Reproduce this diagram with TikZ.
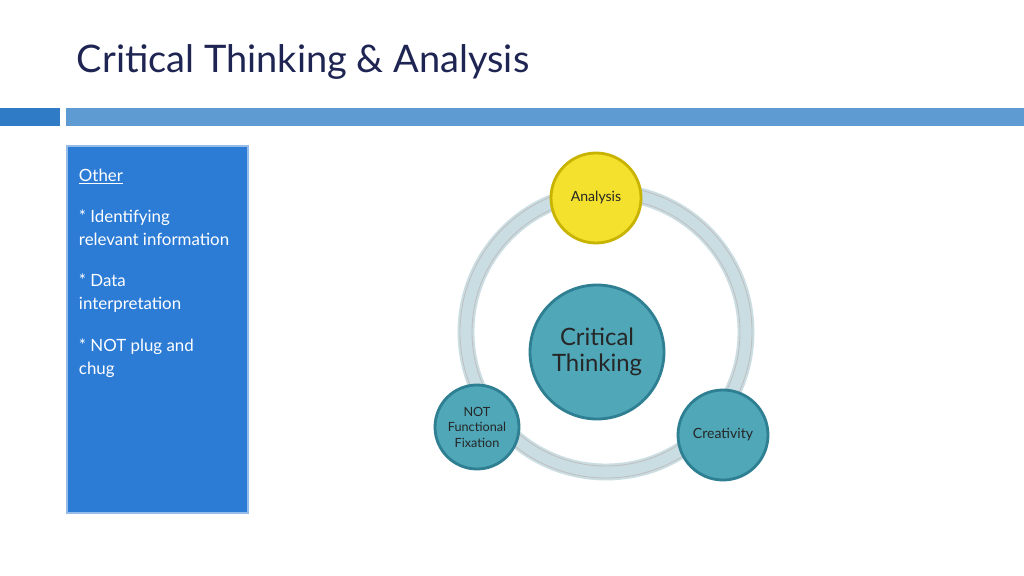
\documentclass[tikz,border=0pt]{standalone}
\usepackage{fontspec}
\setmainfont{Lato}
\usetikzlibrary{positioning}
\definecolor{titlenavy}{HTML}{1F2553}
\definecolor{bardark}{HTML}{2F7BC6}
\definecolor{barlight}{HTML}{5E9BD3}
\definecolor{boxblue}{HTML}{2C7CD6}
\definecolor{ringgray}{HTML}{C9DDE3}
\definecolor{tealfill}{HTML}{4FA7B8}
\definecolor{tealedge}{HTML}{2E7F92}
\definecolor{goldfill}{HTML}{F3E12E}
\definecolor{goldedge}{HTML}{C8B400}
\tikzset{
  bubble/.style={circle, draw=tealedge, line width=2pt, fill=tealfill, text=black!85, align=center, inner sep=0pt},
  boxtext/.style={anchor=north west, text=white, font=\fontsize{12}{16}\selectfont, align=left}
}
\begin{document}
\begin{tikzpicture}[x=0.025cm, y=-0.025cm]
  \useasboundingbox (0,0) rectangle (1024,576);
  \fill[white] (0,0) rectangle (1024,576);
  % title and bars
  \node[anchor=west, text=titlenavy, font=\fontsize{27}{30}\selectfont] (title) at (72,62) {Critical Thinking \& Analysis};
  \fill[bardark] (0,108) rectangle (60,126);
  \fill[barlight] (66,108) rectangle (1024,126);
  % side box
  \draw[draw=boxblue!50, line width=1pt, fill=boxblue] (67,146) rectangle (248,513);
  \node[boxtext] (other) at (74,164) {\underline{Other}};
  \node[boxtext] (ident) at (74,205) {* Identifying\\relevant information};
  \node[boxtext] (data) at (74,269) {* Data\\interpretation};
  \node[boxtext] (plug) at (74,334) {* NOT plug and\\chug};
  % cycle
  \draw[ringgray, line width=12pt] (606,332) circle (140);
  \draw[gray!50, line width=0.6pt] (606,332) circle (146) (606,332) circle (134);
  \node[bubble, minimum size=134*0.025cm, font=\fontsize{17}{19}\selectfont] (crit) at (597,352) {Critical\\Thinking};
  \node[bubble, draw=goldedge, fill=goldfill, minimum size=90*0.025cm, font=\fontsize{10}{12}\selectfont] (ana) at (596,198) {Analysis};
  \node[bubble, minimum size=84*0.025cm, font=\fontsize{9}{11}\selectfont] (nff) at (477,427) {NOT\\Functional\\Fixation};
  \node[bubble, minimum size=90*0.025cm, font=\fontsize{10}{12}\selectfont] (crea) at (723,435) {Creativity};
\end{tikzpicture}
\end{document}
